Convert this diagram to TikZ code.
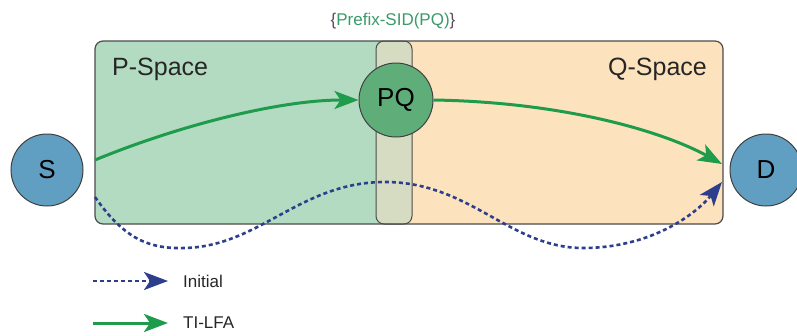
\documentclass[tikz,border=0pt]{standalone}
\usepackage{fontspec}
\setmainfont{Liberation Sans}
\usetikzlibrary{arrows.meta}
\definecolor{pspace}{HTML}{B3DBC1}
\definecolor{qspace}{HTML}{FDE3BD}
\definecolor{pqstrip}{HTML}{D6DCC1}
\definecolor{pqfill}{HTML}{5FAE7A}
\definecolor{endfill}{HTML}{609FC2}
\definecolor{tigreen}{HTML}{1E9B4B}
\definecolor{initblue}{HTML}{2C3E8C}
\definecolor{sidgreen}{HTML}{3A9A6A}
\definecolor{bracegray}{HTML}{5A4A5A}
\tikzstyle{endnode} = [circle, draw=black!75, line width=1pt, fill=endfill, minimum size=72pt, inner sep=0pt, font=\fontsize{26}{30}\selectfont]
\tikzstyle{pqnode} = [circle, draw=black!75, line width=1pt, fill=pqfill, minimum size=74pt, inner sep=0pt, font=\fontsize{26}{30}\selectfont]
\tikzstyle{spacetxt} = [inner sep=0pt, font=\fontsize{25}{30}\selectfont, text=black!85]
\tikzstyle{legtxt} = [inner sep=0pt, font=\fontsize{17}{20}\selectfont, text=black!85]
\tikzstyle{tilfa} = [draw=tigreen, line width=3pt, -{Stealth[length=24pt,width=18pt,inset=6pt]}]
\tikzstyle{initial} = [draw=initblue, line width=2.6pt, dash pattern=on 4pt off 3pt, -{Stealth[length=24pt,width=18pt,inset=6pt]}]

\begin{document}
\begin{tikzpicture}[x=1pt,y=-1pt]
\useasboundingbox (0,0) rectangle (797,335);

% spaces
\fill[qspace, rounded corners=8pt] (95,41) rectangle (723,224);
\begin{scope}
\clip[rounded corners=8pt] (95,41) rectangle (723,224);
\fill[pspace] (95,41) rectangle (394,224);
\end{scope}
\draw[draw=black!70, fill=pqstrip, line width=1pt, rounded corners=8pt] (376,41) rectangle (412,224);
\draw[draw=black!70, line width=1.2pt, rounded corners=8pt] (95,41) rectangle (723,224);

\node[spacetxt, anchor=base west] (ptxt) at (112,75) {P-Space};
\node[spacetxt, anchor=base east] (qtxt) at (707,75) {Q-Space};
\node[inner sep=0pt, anchor=base, font=\fontsize{17}{20}\selectfont, text=sidgreen] (sid) at (393,25) {{\color{bracegray}\{}Prefix-SID(PQ){\color{bracegray}\}}};

% nodes
\node[endnode] (S) at (47,170) {S};
\node[endnode] (D) at (766,170) {D};
\node[pqnode] (PQ) at (396,100) {PQ};

% paths
\coordinate (tiStart) at (95,160);
\coordinate (tiEnd) at (722,164);
\coordinate (inStart) at (95,197);
\coordinate (inEnd) at (722,182);
\draw[tilfa] (tiStart) .. controls (180,125) and (280,100) .. (PQ.west);
\draw[tilfa] (PQ.east) .. controls (560,102) and (660,130) .. (tiEnd);
\draw[initial] (inStart) .. controls (125,240) and (150,249) .. (185,248)
  .. controls (260,246) and (300,182) .. (385,182)
  .. controls (470,182) and (510,248) .. (583,248)
  .. controls (650,248) and (695,215) .. (inEnd);

% legend
\coordinate (li0) at (93,281);
\coordinate (li1) at (168,281);
\coordinate (lt0) at (93,323);
\coordinate (lt1) at (168,323);
\draw[initial] (li0) -- (li1);
\draw[tilfa] (lt0) -- (lt1);
\node[legtxt, anchor=west] (linit) at (183,281) {Initial};
\node[legtxt, anchor=west] (ltilfa) at (183,323) {TI-LFA};
\end{tikzpicture}
\end{document}
